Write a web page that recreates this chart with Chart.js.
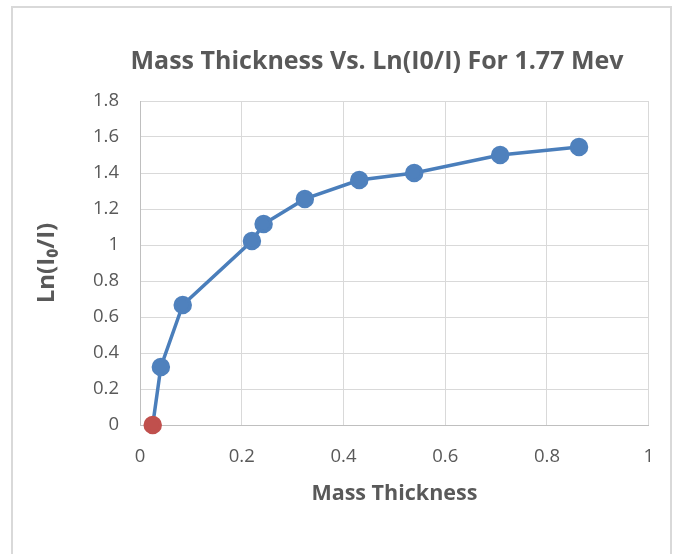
<!DOCTYPE html>
<html>
<head>
<meta charset="utf-8">
<script src="https://cdn.jsdelivr.net/npm/chart.js@4/dist/chart.umd.min.js"></script>
<style>
  html, body { margin: 0; padding: 0; background: #fff; }
  #wrap { position: relative; width: 675px; height: 554px; overflow: hidden; }
  #frame { position: absolute; left: 11px; top: 6px; width: 661px; height: 560px;
           border: 2px solid #d9d9d9; box-sizing: border-box; pointer-events: none; }
</style>
</head>
<body>
<div id="wrap">
  <canvas id="chart" width="675" height="554"></canvas>
  <div id="frame"></div>
</div>
<script>
const chartTitle = "Mass Thickness Vs. Ln(I0/I) For 1.77 Mev";
const xTitle = "Mass Thickness";
const yTitle = "Ln(I\u2080/I)";
const massThickness = [0.025, 0.041, 0.084, 0.220, 0.243, 0.324, 0.431, 0.539, 0.708, 0.863];
const lnRatio = [0, 0.322, 0.667, 1.022, 1.117, 1.256, 1.361, 1.400, 1.500, 1.544];
const pointColors = ["#c0504d", "#4f81bd", "#4f81bd", "#4f81bd", "#4f81bd", "#4f81bd", "#4f81bd", "#4f81bd", "#4f81bd", "#4f81bd"];

const FONT = "'Open Sans', 'Liberation Sans', sans-serif";
const GREY = "#595959";

// title drawn slightly left of the plot centre, like the original
const titlePlugin = {
  id: "titleAt",
  afterDraw(chart) {
    const ctx = chart.ctx;
    ctx.save();
    ctx.font = "bold 25px " + FONT;
    ctx.fillStyle = GREY;
    ctx.textAlign = "center";
    ctx.textBaseline = "middle";
    ctx.fillText(chartTitle, 377, 62);
    ctx.restore();
  }
};

const ctx = document.getElementById("chart").getContext("2d");
new Chart(ctx, {
  type: "scatter",
  data: {
    datasets: [{
      data: massThickness.map((x, i) => ({ x: x, y: lnRatio[i] })),
      showLine: true,
      clip: false,
      borderColor: "#4a7ebb",
      borderWidth: 3.5,
      pointRadius: 7.5,
      pointHoverRadius: 7.5,
      pointBackgroundColor: pointColors,
      pointBorderColor: pointColors,
      tension: 0
    }]
  },
  plugins: [titlePlugin],
  options: {
    responsive: false,
    animation: false,
    layout: { padding: { top: 101, right: 25, left: 12, bottom: 40 } },
    plugins: { legend: { display: false }, tooltip: { enabled: false }, title: { display: false } },
    scales: {
      x: {
        min: 0, max: 1,
        afterFit(scale) { scale.height = 554 - 425 - 40; },
        ticks: { stepSize: 0.2, padding: 21, color: GREY, font: { family: FONT, size: 18.5 },
                 callback: v => parseFloat(v.toFixed(1)) },
        grid: { color: "#d9d9d9", lineWidth: 1, drawTicks: false },
        border: { color: "#bfbfbf", width: 1 },
        title: { display: true, text: xTitle, color: GREY, padding: { top: 0, bottom: 7 },
                 font: { family: FONT, size: 21.5, weight: "bold" } }
      },
      y: {
        min: 0, max: 1.8,
        afterFit(scale) { scale.width = 140 - 12; },
        ticks: { stepSize: 0.2, padding: 21, color: GREY, font: { family: FONT, size: 18.5 },
                 callback: v => parseFloat(v.toFixed(1)) },
        grid: { color: "#d9d9d9", lineWidth: 1, drawTicks: false },
        border: { color: "#bfbfbf", width: 1 },
        title: { display: true, text: yTitle, color: GREY, padding: { top: 21, bottom: 0 },
                 font: { family: FONT, size: 24, weight: "bold" } }
      }
    }
  }
});
</script>
</body>
</html>
